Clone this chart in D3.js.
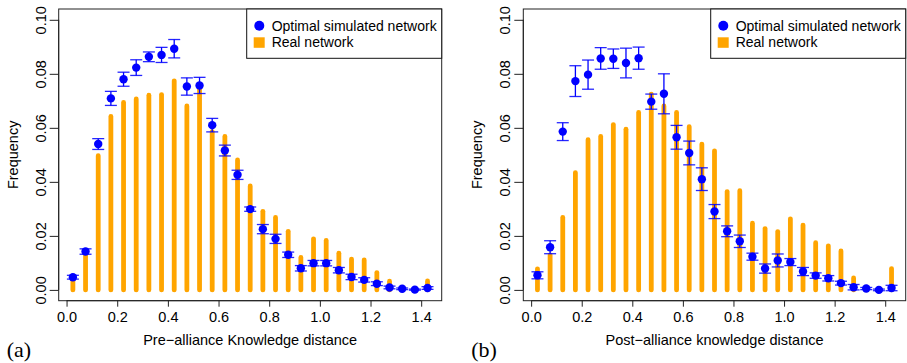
<!DOCTYPE html>
<html>
<head>
<meta charset="utf-8">
<script src="https://cdn.jsdelivr.net/npm/d3@7"></script>
<style>
  body { margin: 0; background: #fff; }
  text { font-family: "Liberation Sans", Arial, sans-serif; fill: #000; }
</style>
</head>
<body>
<svg id="chart" width="907" height="363"></svg>
<script>
// bin centres of the knowledge distance histogram
const binMid = [0.025, 0.075, 0.125, 0.175, 0.225, 0.275, 0.325, 0.375, 0.425, 0.475,
  0.525, 0.575, 0.625, 0.675, 0.725, 0.775, 0.825, 0.875, 0.925, 0.975,
  1.025, 1.075, 1.125, 1.175, 1.225, 1.275, 1.325, 1.375, 1.425];

// (a) pre-alliance
const preReal = [0.0042, 0.0138, 0.0497, 0.0642, 0.0694, 0.0707, 0.0721, 0.0723, 0.0774, 0.0681,
  0.0752, 0.0586, 0.0568, 0.0481, 0.0385, 0.0291, 0.0268, 0.0217, 0.0120, 0.0189,
  0.0183, 0.0136, 0.0114, 0.0111, 0.0064, 0.0032, 0.0008, 0.0005, 0.0033];
const preSim = [0.0047, 0.0142, 0.0540, 0.0709, 0.0780, 0.0823, 0.0863, 0.0870, 0.0893, 0.0753,
  0.0757, 0.0610, 0.0516, 0.0426, 0.0299, 0.0225, 0.0189, 0.0130, 0.0080, 0.0099,
  0.0099, 0.0073, 0.0048, 0.0037, 0.0023, 0.0009, 0.0004, 0.0001, 0.0007];
const preErr = [0.0007, 0.0010, 0.0020, 0.0026, 0.0026, 0.0029, 0.0018, 0.0028, 0.0034, 0.0032,
  0.0030, 0.0025, 0.0020, 0.0017, 0.0008, 0.0017, 0.0017, 0.0010, 0.0010, 0.0010,
  0.0010, 0.0010, 0.0010, 0.0008, 0.0007, 0.0005, 0.0003, 0.0002, 0.0005];

// (b) post-alliance
const postReal = [0.0078, 0.0130, 0.0268, 0.0434, 0.0556, 0.0568, 0.0612, 0.0595, 0.0657, 0.0725,
  0.0681, 0.0657, 0.0604, 0.0540, 0.0515, 0.0364, 0.0367, 0.0247, 0.0227, 0.0216,
  0.0263, 0.0240, 0.0175, 0.0163, 0.0144, 0.0044, 0.0010, 0.0005, 0.0079];
const postSim = [0.0054, 0.0158, 0.0586, 0.0773, 0.0797, 0.0857, 0.0856, 0.0840, 0.0858, 0.0697,
  0.0726, 0.0565, 0.0507, 0.0410, 0.0290, 0.0217, 0.0180, 0.0123, 0.0079, 0.0109,
  0.0103, 0.0068, 0.0053, 0.0043, 0.0025, 0.0010, 0.0005, 0.0000, 0.0007];
const postErr = [0.0013, 0.0024, 0.0033, 0.0057, 0.0054, 0.0040, 0.0036, 0.0055, 0.0041, 0.0028,
  0.0074, 0.0044, 0.0044, 0.0042, 0.0026, 0.0020, 0.0023, 0.0013, 0.0017, 0.0024,
  0.0013, 0.0015, 0.0010, 0.0010, 0.0007, 0.0010, 0.0004, 0.0003, 0.0010];

const xTicks = [0.0, 0.2, 0.4, 0.6, 0.8, 1.0, 1.2, 1.4];
const yTicks = [0.00, 0.02, 0.04, 0.06, 0.08, 0.10];
const legendLabels = ['Optimal simulated network', 'Real network'];

const svg = d3.select('#chart');

function drawPanel(left, right, real, sim, err, xTitle, tag) {
  const top = 9, bottom = 300.7;
  const x = d3.scaleLinear().domain([-0.031, 1.481]).range([left, right]);
  const y = d3.scaleLinear().domain([-0.004, 0.104]).range([bottom, top]);
  const g = svg.append('g');

  // orange histogram lines (type="h")
  g.selectAll('line.bar').data(binMid).enter().append('line')
    .attr('x1', d => x(d)).attr('x2', d => x(d))
    .attr('y1', y(0)).attr('y2', (d, i) => y(real[i]))
    .style('stroke', '#FFA500').style('stroke-width', 4.8)
    .style('stroke-linecap', 'round');

  // error bars
  binMid.forEach((d, i) => {
    const cx = x(d), lo = y(sim[i] - err[i]), hi = y(sim[i] + err[i]);
    g.append('line').attr('x1', cx).attr('x2', cx).attr('y1', lo).attr('y2', hi)
      .style('stroke', '#0000ff').style('stroke-width', 1.3);
    [lo, hi].forEach(yy => {
      g.append('line').attr('x1', cx - 6).attr('x2', cx + 6).attr('y1', yy).attr('y2', yy)
        .style('stroke', '#0000ff').style('stroke-width', 1.3).style('stroke-opacity', 0.85);
    });
  });

  // simulated points
  g.selectAll('circle.pt').data(binMid).enter().append('circle')
    .attr('cx', d => x(d)).attr('cy', (d, i) => y(sim[i]))
    .attr('r', 4.2).style('fill', '#0000ff');

  // box
  g.append('rect').attr('x', left).attr('y', top)
    .attr('width', right - left).attr('height', bottom - top)
    .style('fill', 'none').style('stroke', '#222').style('stroke-width', 1);

  // x axis
  const xa = g.append('g').attr('transform', 'translate(0,' + bottom + ')')
    .call(d3.axisBottom(x).tickValues(xTicks).tickFormat(d3.format('.1f')).tickSize(6).tickPadding(5));
  xa.select('.domain').attr('d', 'M' + x(0) + ',0H' + x(1.4)).style('stroke', '#222');
  xa.selectAll('line').style('stroke', '#222');
  xa.selectAll('text').style('font-size', '14.5px').style('font-family', '"Liberation Sans", Arial, sans-serif');

  // y axis
  const ya = g.append('g').attr('transform', 'translate(' + left + ',0)')
    .call(d3.axisLeft(y).tickValues(yTicks).tickFormat(d3.format('.2f')).tickSize(9).tickPadding(0));
  ya.select('.domain').attr('d', 'M0,' + y(0) + 'V' + y(0.1)).style('stroke', '#222');
  ya.selectAll('line').style('stroke', '#222');
  ya.selectAll('text')
    .attr('x', 0).attr('dy', null)
    .attr('transform', 'translate(-18,0) rotate(-90)')
    .attr('text-anchor', 'middle').attr('dominant-baseline', 'central')
    .style('font-size', '14.5px').style('font-family', '"Liberation Sans", Arial, sans-serif');

  // titles
  g.append('text').attr('x', (left + right) / 2).attr('y', 345)
    .attr('text-anchor', 'middle').style('font-size', '14.5px').text(xTitle);
  g.append('text')
    .attr('transform', 'translate(' + (left - 41) + ',' + ((top + bottom) / 2) + ') rotate(-90)')
    .attr('text-anchor', 'middle').style('font-size', '14.5px').text('Frequency');
  g.append('text').attr('x', left - 52).attr('y', 357)
    .style('font-family', '"Liberation Serif", "DejaVu Serif", serif').style('font-size', '22px')
    .text(tag);

  // legend
  const lx = right - 195;
  g.append('rect').attr('x', lx).attr('y', top).attr('width', right - lx).attr('height', 49.3)
    .style('fill', '#fff').style('stroke', '#111').style('stroke-width', 1);
  g.append('circle').attr('cx', lx + 12.6).attr('cy', 25.7).attr('r', 5).style('fill', '#0000ff');
  g.append('rect').attr('x', lx + 7).attr('y', 37.3).attr('width', 11).attr('height', 10.5)
    .style('fill', '#FFA500');
  legendLabels.forEach((t, i) => {
    g.append('text').attr('x', lx + 25).attr('y', 25.7 + i * 16.6).attr('dy', '0.35em')
      .style('font-size', '14px').text(t);
  });
}

drawPanel(58.7, 441.7, preReal, preSim, preErr, 'Pre\u2212alliance Knowledge distance', '(a)');
drawPanel(523.3, 905.7, postReal, postSim, postErr, 'Post\u2212alliance knowledge distance', '(b)');
</script>
</body>
</html>
